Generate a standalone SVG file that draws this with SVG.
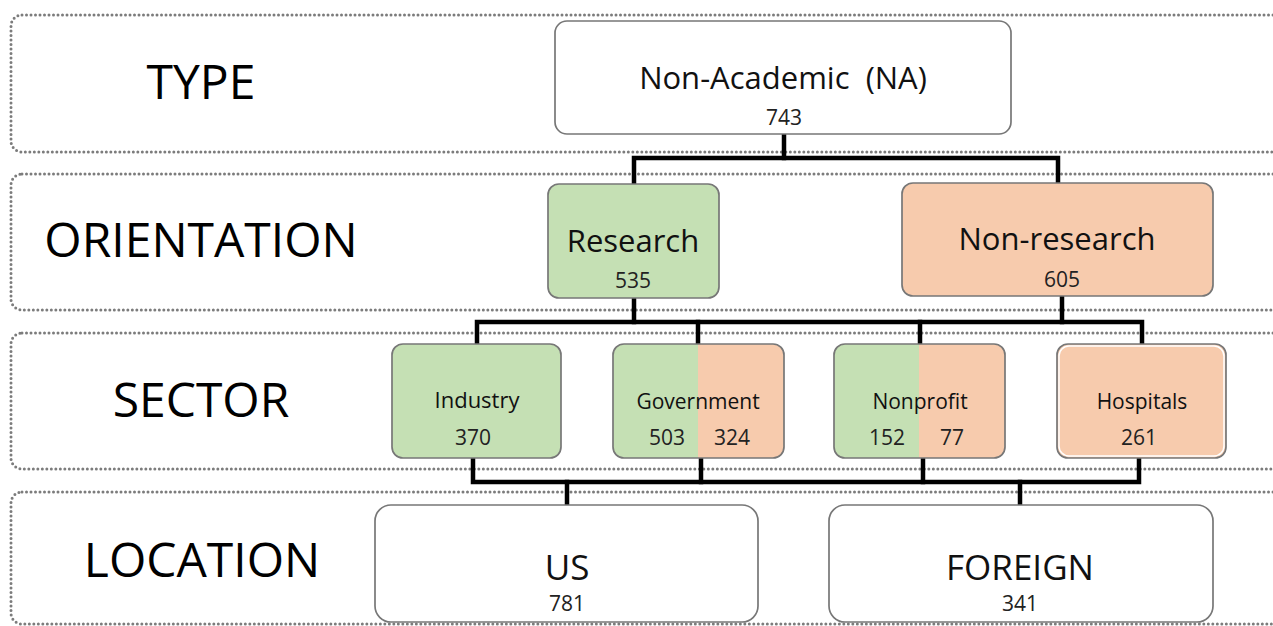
<svg xmlns="http://www.w3.org/2000/svg" width="1273" height="626" viewBox="0 0 1273 626">
  <defs>
    <style>
      .band { fill: none; stroke: #7c7c7c; stroke-width: 3; stroke-dasharray: 0 4.5; stroke-linecap: round; }
      .box { stroke: #777777; stroke-width: 1.7; }
      .white { fill: #ffffff; }
      .green { fill: #c5e0b4; }
      .orange { fill: #f7cbad; }
      .wire { fill: none; stroke: #000000; stroke-width: 4.5; stroke-linejoin: miter; stroke-linecap: square; }
      text { font-family: "Open Sans", "Noto Sans", "DejaVu Sans", sans-serif; fill: #111111; text-anchor: middle; }
      .tier { font-size: 48px; fill: #000; }
      .big { font-size: 31px; }
      .mid { font-size: 21px; }
      .num { font-size: 21px; fill: #222222; }
      .loc { font-size: 35px; }
    </style>
    <linearGradient id="split" x1="0" y1="0" x2="1" y2="0">
      <stop offset="0.497" stop-color="#c5e0b4"/>
      <stop offset="0.497" stop-color="#f7cbad"/>
    </linearGradient>
  </defs>

  <rect width="1273" height="626" fill="#ffffff"/>

  <!-- tier bands -->
  <g id="bands">
    <rect class="band" x="11" y="15" width="1290" height="137" rx="11"/>
    <rect class="band" x="11" y="174" width="1290" height="136" rx="11"/>
    <rect class="band" x="11" y="333" width="1290" height="136" rx="11"/>
    <rect class="band" x="11" y="492" width="1290" height="132" rx="11"/>
  </g>

  <!-- tier labels -->
  <g id="tier-labels">
    <text class="tier" x="201" y="99">TYPE</text>
    <text class="tier" x="201" y="257">ORIENTATION</text>
    <text class="tier" x="201" y="417">SECTOR</text>
    <text class="tier" x="202" y="577">LOCATION</text>
  </g>

  <!-- tree connectors -->
  <g id="connectors">
    <path class="wire" d="M784 134 V158"/>
    <path class="wire" d="M634 184 V158 H1058 V183"/>
    <path class="wire" d="M634 298 V322"/>
    <path class="wire" d="M1062 296 V322"/>
    <path class="wire" d="M477 344 V322 H1142 V344"/>
    <path class="wire" d="M698 322 V344"/>
    <path class="wire" d="M920 322 V344"/>
    <path class="wire" d="M473 458 V482 H1139 V458"/>
    <path class="wire" d="M701 458 V482"/>
    <path class="wire" d="M923 458 V482"/>
    <path class="wire" d="M567 482 V505"/>
    <path class="wire" d="M1020 482 V505"/>
  </g>

  <g id="node-na">
    <rect class="box white" x="555" y="21" width="456" height="113" rx="12"/>
    <text class="big" x="783" y="89">Non-Academic&#160; (NA)</text>
    <text class="num" x="784" y="125">743</text>
  </g>

  <g id="node-research">
    <rect class="box green" x="548" y="184" width="171" height="114" rx="11"/>
    <text class="big" x="633" y="252">Research</text>
    <text class="num" x="633" y="288">535</text>
  </g>

  <g id="node-nonresearch">
    <rect class="box orange" x="902" y="183" width="311" height="113" rx="11"/>
    <text class="big" x="1057" y="250">Non-research</text>
    <text class="num" x="1062" y="287">605</text>
  </g>

  <g id="node-industry">
    <rect class="box green" x="392" y="344" width="169" height="114" rx="11"/>
    <text x="477" y="408" style="font-size:22px">Industry</text>
    <text class="num" x="473" y="445">370</text>
  </g>

  <g id="node-government">
    <rect class="box" x="613" y="344" width="171" height="114" rx="11" fill="url(#split)"/>
    <text class="mid" x="698" y="409">Government</text>
    <text class="num" x="667" y="445">503</text>
    <text class="num" x="732" y="445">324</text>
  </g>

  <g id="node-nonprofit">
    <rect class="box" x="834" y="344" width="171" height="114" rx="11" fill="url(#split)"/>
    <text class="mid" x="920" y="409">Nonprofit</text>
    <text class="num" x="887" y="445">152</text>
    <text class="num" x="952" y="445">77</text>
  </g>

  <g id="node-hospitals">
    <rect class="box orange" x="1057" y="344" width="169" height="114" rx="11"/>
    <rect x="1059" y="346" width="165" height="110" rx="10" fill="none" stroke="#ffffff" stroke-width="1.5"/>
    <text class="mid" x="1142" y="409">Hospitals</text>
    <text class="num" x="1139" y="445">261</text>
  </g>

  <g id="node-us">
    <rect class="box white" x="375" y="505" width="383" height="117" rx="16"/>
    <text class="loc" x="567" y="580">US</text>
    <text class="num" x="567" y="611">781</text>
  </g>

  <g id="node-foreign">
    <rect class="box white" x="829" y="505" width="384" height="117" rx="16"/>
    <text class="loc" x="1020" y="580">FOREIGN</text>
    <text class="num" x="1020" y="611">341</text>
  </g>
</svg>
